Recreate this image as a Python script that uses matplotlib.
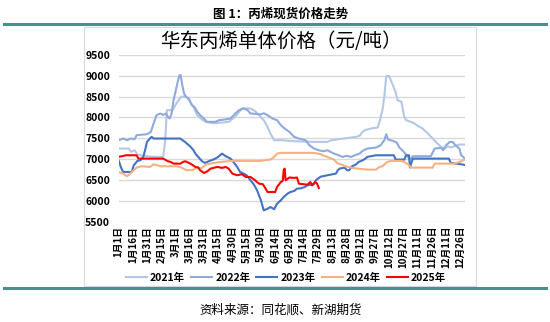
import matplotlib
matplotlib.use("Agg")
import matplotlib.pyplot as plt
from matplotlib.patches import Rectangle
from matplotlib.lines import Line2D

plt.rcParams['font.family'] = ['Noto Sans CJK SC', 'DejaVu Sans']

# day of year (0 = 1月1日) and price (元/吨)
days_2021 = [0, 11, 13, 17, 20, 23, 35, 47, 49, 51, 57, 61, 66, 71, 75, 79, 83, 88, 92, 100,
             110, 116, 122, 126, 130, 139, 144, 148, 153, 157, 160, 164, 172, 185, 206, 220,
             224, 237, 250, 254, 257, 260, 266, 273, 275, 278, 280, 282, 285, 289, 292, 294,
             298, 301, 303, 308, 312, 317, 320, 326, 331, 336, 340, 343, 347, 350, 354, 359, 365]
vals_2021 = [7254, 7254, 7174, 7213, 7109, 7093, 7060, 7050, 7400, 8175, 8175, 8335, 8500, 8500,
             8400, 8250, 8050, 7950, 7895, 7860, 7880, 7895, 8000, 8100, 8215, 8215, 8150, 8055,
             7935, 7775, 7615, 7454, 7454, 7430, 7414, 7414, 7454, 7494, 7534, 7560, 7654, 7700,
             7735, 7758, 7895, 8175, 8496, 8993, 8993, 8776, 8600, 8416, 8376, 8015, 7935, 7895,
             7850, 7775, 7740, 7614, 7494, 7374, 7294, 7254, 7310, 7280, 7310, 7350, 7350]

days_2022 = [0, 5, 9, 13, 17, 19, 30, 34, 37, 40, 44, 47, 50, 52, 54, 56, 58, 62, 64, 65.5, 67,
             69, 71, 74, 77, 80, 83, 86, 90, 93, 102, 106, 112, 118, 123, 127, 132, 136, 139, 150,
             153, 157, 162, 167, 171, 175, 180, 185, 190, 197, 201, 206, 211, 216, 220, 227, 232,
             236, 240, 245, 249, 254, 257, 262, 271, 276, 280, 282, 284, 289, 293, 296, 299, 302,
             305, 307, 310, 329, 333, 340, 342, 345, 349, 352, 355, 359, 361, 365]
vals_2022 = [7454, 7494, 7454, 7494, 7478, 7574, 7598, 7650, 7855, 8055, 8095, 8060, 8095, 8015,
             7975, 8100, 8416, 8816, 9000, 9017, 8800, 8576, 8500, 8456, 8300, 8250, 8135, 8055,
             7975, 7895, 7895, 7935, 7951, 7975, 8095, 8175, 8215, 8175, 8095, 8075, 8100, 8055,
             7975, 7935, 7815, 7735, 7654, 7534, 7494, 7454, 7334, 7254, 7213, 7190, 7213, 7133,
             7093, 7053, 7080, 7053, 7093, 7133, 7197, 7254, 7277, 7330, 7454, 7598, 7470, 7438,
             7400, 7277, 7213, 7133, 7053, 6980, 7070, 7070, 7254, 7270, 7213, 7334, 7414, 7414,
             7330, 7254, 7093, 7013]

days_2023 = [0, 3, 5, 14, 16, 20, 23, 26, 28, 30, 33, 35, 37, 65, 70, 76, 79, 81, 84, 88, 91, 96,
             100, 105, 109, 113, 118, 121, 125, 128, 132, 135, 139, 142, 146, 150, 153, 157, 160,
             164, 167, 171, 174, 178, 181, 185, 188, 192, 196, 199, 206, 208, 213, 220, 229, 231,
             233, 238, 241, 243, 246, 250, 253, 257, 260, 262, 271, 290, 292, 301, 303, 306, 307,
             310, 348, 350, 361, 365]
vals_2023 = [6973, 6780, 6693, 6693, 6850, 6960, 6973, 7050, 7214, 7414, 7494, 7534, 7494, 7494,
             7414, 7294, 7214, 7133, 7053, 6950, 6909, 6960, 6990, 7053, 7133, 7070, 7013, 6933,
             6813, 6693, 6650, 6613, 6493, 6412, 6252, 6012, 5771, 5811, 5851, 5800, 5932, 6012,
             6092, 6172, 6212, 6236, 6292, 6300, 6330, 6372, 6400, 6500, 6580, 6613, 6653, 6733,
             6773, 6797, 6733, 6733, 6829, 6870, 6933, 6970, 7013, 7053, 7093, 7093, 6990, 6990,
             7093, 7093, 6800, 7013, 7013, 6909, 6877, 6860]

days_2024 = [0, 5, 9, 12, 16, 19, 24, 33, 37, 40, 44, 61, 66, 72, 78, 83, 87, 93, 100, 118, 150,
             160, 164, 167, 171, 206, 213, 215, 220, 227, 231, 234, 239, 245, 252, 262, 271, 275,
             278, 283, 287, 298, 301, 305, 308, 331, 333, 354, 359, 365]
vals_2024 = [6693, 6653, 6589, 6650, 6733, 6797, 6830, 6813, 6877, 6860, 6829, 6829, 6800, 6733,
             6740, 6797, 6780, 6877, 6909, 6958, 6958, 6990, 7053, 7133, 7150, 7150, 7120, 7093,
             7053, 6990, 6893, 6880, 6829, 6797, 6773, 6749, 6749, 6813, 6829, 6933, 6958, 6958,
             6930, 6877, 6797, 6797, 6893, 6893, 6930, 6990]

days_2025 = [0, 8, 19, 21, 47, 52, 55, 58, 62, 65, 68, 70, 72, 75, 77, 81, 84, 86, 90, 93, 97, 104,
             109, 113, 116, 120, 125, 130, 134, 139, 143, 148, 152, 155, 157, 165, 167, 171, 173,
             174, 175, 176, 180, 185, 188, 190, 199, 202, 204, 207, 209, 211]
vals_2025 = [7053, 7093, 7093, 7013, 7013, 6950, 6933, 6893, 6893, 6890, 6933, 6950, 6933, 6900,
             6877, 6813, 6800, 6733, 6669, 6700, 6773, 6813, 6790, 6813, 6773, 6653, 6613, 6640,
             6573, 6573, 6508, 6412, 6400, 6292, 6212, 6212, 6332, 6452, 6480, 6733, 6773, 6493,
             6560, 6550, 6560, 6412, 6388, 6452, 6372, 6452, 6420, 6308]

tick_days = list(range(0, 361, 15))
tick_labels = ['1月1日', '1月16日', '1月31日', '2月15日', '3月1日', '3月16日', '3月31日',
               '4月15日', '4月30日', '5月15日', '5月30日', '6月14日', '6月29日', '7月14日',
               '7月29日', '8月13日', '8月28日', '9月12日', '9月27日', '10月12日', '10月27日',
               '11月11日', '11月26日', '12月11日', '12月26日']

series = [
    ('2021年', days_2021, vals_2021, '#B4C7E7'),
    ('2022年', days_2022, vals_2022, '#8FAADC'),
    ('2023年', days_2023, vals_2023, '#4472C4'),
    ('2024年', days_2024, vals_2024, '#F4B183'),
    ('2025年', days_2025, vals_2025, '#FF0000'),
]

fig = plt.figure(figsize=(5.5, 3.22), dpi=100)

# header, rules and outer chart frame
fig.text(0.51, 0.955, '图 1：丙烯现货价格走势', ha='center', va='center',
         fontsize=9, fontweight='bold')
teal = '#4A8F8F'
fig.add_artist(Line2D([0.007, 0.993], [1 - 24 / 322] * 2, color=teal, lw=2.2))
fig.add_artist(Line2D([0.007, 0.993], [1 - 288 / 322] * 2, color=teal, lw=2.2))
fig.add_artist(Rectangle((84 / 550, 1 - 286 / 322), 392 / 550, 259 / 322,
                         fill=False, edgecolor='#D9D9D9', lw=0.8))
fig.text(0.511, 1 - 310 / 322, '资料来源：同花顺、新湖期货', ha='center', va='center',
         fontsize=9)

ax = fig.add_axes([118.5 / 550, 1 - 221.7 / 322, (465 - 118.5) / 550, (221.7 - 54.9) / 322])
for name, d, v, c in series:
    ax.plot(d, v, color=c, lw=1.5, label=name)

ax.set_xlim(0, 365)
ax.set_ylim(5500, 9500)
ax.set_yticks(range(5500, 9501, 500))
ax.set_xticks(tick_days)
ax.set_xticklabels(tick_labels, rotation=90, fontsize=7, fontweight='bold')
ax.tick_params(axis='y', labelsize=7.5, length=0, pad=6)
ax.tick_params(axis='x', length=0, pad=3)
for lbl in ax.get_yticklabels():
    lbl.set_fontweight('bold')
ax.grid(axis='y', color='#D9D9D9', lw=1)
ax.set_axisbelow(True)
for s in ax.spines.values():
    s.set_visible(False)

ax.set_title('华东丙烯单体价格（元/吨）', fontsize=14, pad=6, x=0.47)

fig.legend(loc='center', bbox_to_anchor=(0.52, 1 - 278 / 322), ncol=5, frameon=False,
           fontsize=7.5, handlelength=2.0, handletextpad=0.3, columnspacing=0.6,
           prop={'weight': 'bold', 'size': 7.5})

fig.savefig('out.png', dpi=100)
